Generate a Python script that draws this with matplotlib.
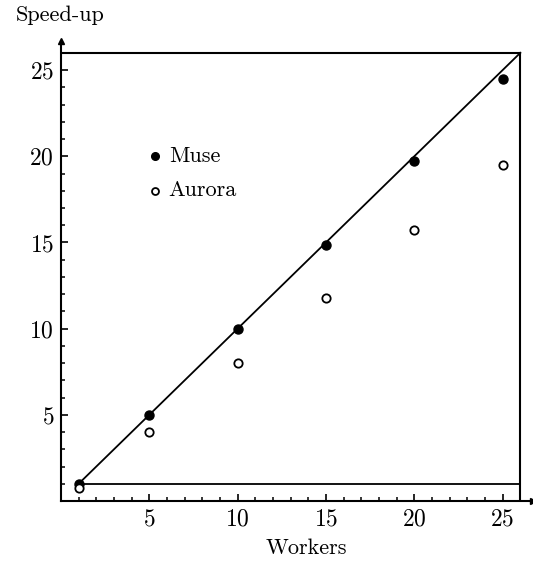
import numpy as np
import matplotlib.pyplot as plt
from matplotlib.ticker import MultipleLocator

plt.rcParams['font.family'] = ['cmr10', 'DejaVu Serif']
plt.rcParams['axes.formatter.use_mathtext'] = True

# data
workers = [1, 5, 10, 15, 20, 25]
muse = [1.0, 5.0, 10.0, 14.85, 19.7, 24.5]
aurora = [0.75, 4.0, 8.0, 11.8, 15.7, 19.5]
ideal = [1, 26]
xticks = [5, 10, 15, 20, 25]
yticks = [5, 10, 15, 20, 25]

fig = plt.figure(figsize=(5.33, 5.64), dpi=100)
ax = fig.add_axes([0.1144, 0.1117, 0.885, 0.816])

# frame: ideal line, baseline at 1, box at 26
ax.plot(ideal, ideal, color='k', lw=1.3)
ax.plot([1, 26], [1, 1], color='k', lw=1.3)
ax.plot([0, 26], [26, 26], color='k', lw=1.5)
ax.plot([26, 26], [0, 26], color='k', lw=1.5)

ax.plot(workers, muse, 'o', color='k', ms=6.5)
ax.plot(workers, aurora, 'o', mfc='white', mec='k', mew=1.3, ms=6)

# legend drawn by hand like the original
ax.plot(5.3, 20.0, 'o', color='k', ms=5.5)
ax.text(6.1, 20.0, 'Muse', fontsize=16, va='center', ha='left')
ax.plot(5.3, 18.0, 'o', mfc='white', mec='k', mew=1.3, ms=5)
ax.text(6.1, 18.0, 'Aurora', fontsize=16, va='center', ha='left')

ax.set_xlim(0, 26.7)
ax.set_ylim(0, 26.7)
ax.spines['top'].set_visible(False)
ax.spines['right'].set_visible(False)
ax.spines['left'].set_linewidth(1.5)
ax.spines['bottom'].set_linewidth(1.5)

# arrow heads at the ends of the axes
ax.plot(1, 0, '>k', ms=4, transform=ax.transAxes, clip_on=False)
ax.plot(0, 1, '^k', ms=4, transform=ax.transAxes, clip_on=False)

ax.set_xticks(xticks)
ax.set_yticks(yticks)
ax.xaxis.set_minor_locator(MultipleLocator(1))
ax.yaxis.set_minor_locator(MultipleLocator(1))
ax.tick_params(which='major', direction='in', length=5, width=1.2, labelsize=17, pad=5)
ax.tick_params(which='minor', direction='in', length=3, width=1.1)

fig.text(0.113, 0.973, 'Speed-up', fontsize=16, ha='center', va='center')
fig.text(0.574, 0.028, 'Workers', fontsize=16, ha='center', va='center')

plt.savefig('out.png', dpi=100)
